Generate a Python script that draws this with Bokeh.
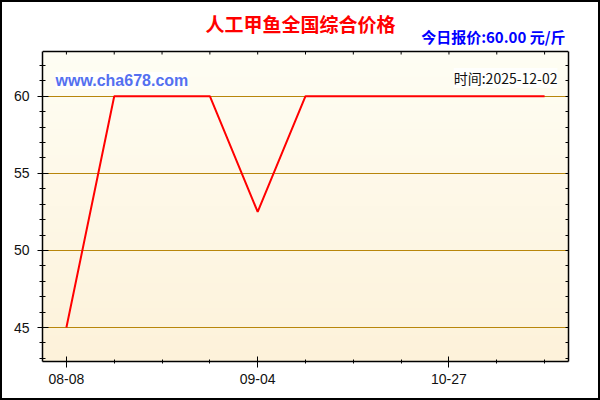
import numpy as np
from bokeh.plotting import figure
from bokeh.models import Range1d, LinearAxis, FixedTicker, Label
from bokeh.embed import file_html
from bokeh.resources import INLINE

# ---- data ----
dates = ["08-08", "08-15", "08-22", "08-29", "09-04", "09-18",
         "09-29", "10-13", "10-27", "11-12", "12-02"]
prices = [45, 60, 60, 60, 52.5, 60, 60, 60, 60, 60, 60]
x_tick_idx = [0, 4, 8]
y_ticks = [45, 50, 55, 60]
y_minor = list(range(43, 63))

title_text = "人工甲鱼全国综合价格"
price_text = "今日报价:60.00 元/斤"
site_text = "www.cha678.com"
date_text = "时间:2025-12-02"

# ---- layout numbers (canvas pixels) ----
W, H = 600, 400
LEFT, RIGHT, BOTTOM = 40, 34, 41
HEADER = 49            # white header strip above the plotting area
y_lo, y_hi = 42.8, 62.9
area_h = H - BOTTOM - HEADER
ppu = area_h / (y_hi - y_lo)          # pixels per y unit
y_end = y_hi + HEADER / ppu           # frame extends up into the header

xs = list(range(len(dates)))
xr = Range1d(-0.5, len(dates) - 0.5)
yr = Range1d(y_lo, y_end)

p = figure(width=W, height=H, x_range=xr, y_range=yr, title=None,
           output_backend="svg", toolbar_location=None,
           min_border_left=LEFT, min_border_right=RIGHT,
           min_border_top=0, min_border_bottom=BOTTOM)
p.border_fill_color = "white"
p.background_fill_color = "white"
p.outline_line_color = None
p.styles = {"border": "2px solid black", "box-sizing": "border-box"}

# gradient background of plot area
N = 200
img = np.empty((N, 1), dtype=np.uint32)
view = img.view(dtype=np.uint8).reshape((N, 1, 4))
bot = np.array([253, 242, 218])
top = np.array([255, 254, 244])
for i in range(N):
    t = i / (N - 1)
    c = bot + (top - bot) * t
    view[i, 0, 0] = int(c[0]); view[i, 0, 1] = int(c[1]); view[i, 0, 2] = int(c[2]); view[i, 0, 3] = 255
p.image_rgba(image=[img], x=xr.start, y=y_lo, dw=xr.end - xr.start,
             dh=y_hi - y_lo, level="image")

# grid
p.xgrid.visible = False
p.ygrid.ticker = FixedTicker(ticks=y_ticks)
p.ygrid.grid_line_color = "#B8860B"
p.ygrid.grid_line_width = 1

# price line
p.line(xs, prices, line_color="#FF0000", line_width=2)

# top edge of the plotting area with inward ticks
p.line([xr.start, xr.end], [y_hi, y_hi], line_color="black", line_width=1.5)
p.segment(x0=xs, y0=[y_hi] * len(xs), x1=xs, y1=[y_hi - 3 / ppu] * len(xs),
          line_color="black", line_width=1)

label_font = "Liberation Sans"

# bottom axis
xa = p.xaxis[0]
xa.ticker = FixedTicker(ticks=x_tick_idx, minor_ticks=xs)
xa.major_label_overrides = {i: dates[i] for i in x_tick_idx}
xa.major_tick_in = 5; xa.major_tick_out = 6
xa.minor_tick_in = 2; xa.minor_tick_out = 2
xa.major_label_standoff = 6
xa.major_label_text_font = label_font
xa.major_label_text_font_size = "14px"
xa.major_label_text_color = "#111111"
xa.axis_line_width = 1.5
xa.axis_line_color = "black"

# left axis
ya = p.yaxis[0]
ya.bounds = (y_lo, y_hi)
ya.ticker = FixedTicker(ticks=y_ticks, minor_ticks=y_minor)
ya.major_tick_in = 6; ya.major_tick_out = 5
ya.minor_tick_in = 3; ya.minor_tick_out = 3
ya.major_label_standoff = 8
ya.major_label_text_font = label_font
ya.major_label_text_font_size = "14px"
ya.major_label_text_color = "#111111"
ya.axis_line_width = 1.5
ya.axis_line_color = "black"

# mirrored right axis (ticks only)
ra = LinearAxis(ticker=FixedTicker(ticks=y_minor), bounds=(y_lo, y_hi),
                major_tick_in=3, major_tick_out=0,
                minor_tick_in=0, minor_tick_out=0, major_label_text_font_size="1px",
                major_label_overrides={v: "" for v in y_minor},
                major_label_standoff=0, axis_line_width=1.5)
p.add_layout(ra, "right")

# texts (screen units relative to frame bottom-left)
p.add_layout(Label(x=258, y=338, x_units="screen", y_units="screen", text=title_text,
                   text_align="center", text_baseline="middle",
                   text_font="Noto Sans CJK SC", text_font_style="bold",
                   text_font_size="19px", text_color="#FF0000"))
p.add_layout(Label(x=523, y=325, x_units="screen", y_units="screen", text=price_text,
                   text_align="right", text_baseline="middle",
                   text_font="Noto Sans CJK SC", text_font_style="bold",
                   text_font_size="15px", text_color="#0000FF"))
p.add_layout(Label(x=13, y=281, x_units="screen", y_units="screen", text=site_text,
                   text_align="left", text_baseline="middle",
                   text_font=label_font, text_font_style="bold",
                   text_font_size="16px", text_color="#5470F0",
                   background_fill_color="white", background_fill_alpha=0.8))
p.add_layout(Label(x=515, y=283.5, x_units="screen", y_units="screen", text=date_text,
                   text_align="right", text_baseline="middle",
                   text_font="Noto Sans CJK SC",
                   text_font_size="14px", text_color="#111111",
                   background_fill_color="white", background_fill_alpha=0.8))

open("out.html", "w").write(file_html(p, INLINE))
